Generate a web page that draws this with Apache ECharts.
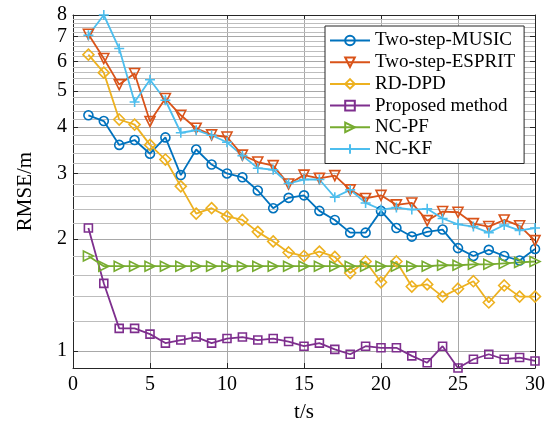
<!DOCTYPE html>
<html>
<head>
<meta charset="utf-8">
<script src="https://cdn.jsdelivr.net/npm/echarts@6/dist/echarts.min.js"></script>
<style>
html, body { margin: 0; padding: 0; background: #fff; }
#main { width: 555px; height: 425px; }
</style>
</head>
<body>
<div id="main"></div>
<script>
// time steps (s)
var tSteps = [1, 2, 3, 4, 5, 6, 7, 8, 9, 10, 11, 12, 13, 14, 15, 16, 17, 18, 19, 20, 21, 22, 23, 24, 25, 26, 27, 28, 29, 30];

// RMSE (m) per method
var musicRmse = [4.30, 4.15, 3.58, 3.69, 3.39, 3.75, 2.97, 3.48, 3.17, 3.00, 2.93, 2.70, 2.42, 2.58, 2.62, 2.38, 2.25, 2.08, 2.08, 2.38, 2.14, 2.03, 2.09, 2.12, 1.89, 1.80, 1.87, 1.80, 1.75, 1.88];
var espritRmse = [7.10, 6.11, 5.20, 5.57, 4.14, 4.77, 4.30, 3.97, 3.81, 3.76, 3.36, 3.22, 3.15, 2.81, 2.97, 2.91, 2.96, 2.71, 2.57, 2.62, 2.47, 2.50, 2.24, 2.37, 2.36, 2.20, 2.16, 2.25, 2.17, 1.98];
var rdDpdRmse = [6.26, 5.60, 4.19, 4.06, 3.58, 3.27, 2.77, 2.34, 2.42, 2.30, 2.25, 2.09, 1.97, 1.84, 1.80, 1.85, 1.79, 1.62, 1.74, 1.53, 1.74, 1.49, 1.51, 1.40, 1.47, 1.54, 1.35, 1.50, 1.40, 1.40];
var proposedRmse = [2.14, 1.52, 1.15, 1.15, 1.11, 1.05, 1.07, 1.09, 1.05, 1.08, 1.09, 1.07, 1.08, 1.06, 1.03, 1.05, 1.01, 0.98, 1.03, 1.02, 1.02, 0.97, 0.93, 1.03, 0.90, 0.95, 0.98, 0.95, 0.96, 0.94];
var ncPfRmse = [1.80, 1.69, 1.69, 1.69, 1.69, 1.69, 1.69, 1.69, 1.69, 1.69, 1.69, 1.69, 1.69, 1.69, 1.69, 1.69, 1.69, 1.69, 1.69, 1.69, 1.69, 1.69, 1.69, 1.70, 1.70, 1.71, 1.71, 1.72, 1.73, 1.74];
var ncKfRmse = [7.06, 8.00, 6.50, 4.67, 5.36, 4.72, 3.86, 3.92, 3.80, 3.64, 3.35, 3.10, 3.07, 2.82, 2.89, 2.89, 2.59, 2.71, 2.50, 2.40, 2.43, 2.40, 2.41, 2.27, 2.19, 2.16, 2.08, 2.18, 2.11, 2.14];

// axis ticks
var xTicks = [0, 5, 10, 15, 20, 25, 30];
var yTicks = [1, 2, 3, 4, 5, 6, 7, 8];
// minor grid every 0.2 between the major ticks (matlab log-axis minor grid)
var yMinorTicks = [];
for (var k = 12; k < 80; k += 2) {
    if (k % 10 !== 0) yMinorTicks.push(k / 10);
}

var FONT = "'Liberation Serif', 'Times New Roman', serif";
var AXIS_COLOR = '#262626';
var GRID_MAJOR = '#a8a8a8';
var GRID_MINOR = '#bdbdbd';

function makeSeries(name, values, color, symbol, size, rotate, yIdx) {
    return {
        name: name,
        type: 'line',
        xAxisIndex: 0,
        yAxisIndex: yIdx || 0,
        data: tSteps.map(function (t, i) { return [t, values[i]]; }),
        symbol: symbol,
        symbolSize: size,
        symbolRotate: rotate || 0,
        showAllSymbol: true,
        lineStyle: { color: color, width: 1.8 },
        itemStyle: { color: 'rgba(255,255,255,0)', borderColor: color, borderWidth: 1.6 },
        emphasis: { disabled: true },
        z: 3
    };
}

function yAxisBase(position) {
    return {
        type: 'log',
        logBase: 10,
        min: 0.9,
        max: 8,
        position: position,
        axisLine: { show: true, onZero: false, lineStyle: { color: AXIS_COLOR } },
        axisTick: { show: true, inside: true, length: 5, customValues: yTicks, lineStyle: { color: AXIS_COLOR } },
        axisLabel: { show: false },
        splitLine: { show: false }
    };
}

var yLeft = yAxisBase('left');
yLeft.axisLabel = { show: true, customValues: yTicks, fontFamily: FONT, fontSize: 20, color: '#000', margin: 6 };
yLeft.splitLine = { show: true, lineStyle: { color: GRID_MAJOR, width: 1, type: 'solid' } };
yLeft.name = 'RMSE/m';
yLeft.nameLocation = 'middle';
yLeft.nameGap = 37;
yLeft.nameTextStyle = { fontFamily: FONT, fontSize: 21, color: '#000' };

var yRight = yAxisBase('right');

var seriesList = [
    makeSeries('Two-step-MUSIC', musicRmse, '#0072BD', 'circle', 9),
    makeSeries('Two-step-ESPRIT', espritRmse, '#D95319', 'triangle', 10, 180),
    makeSeries('RD-DPD', rdDpdRmse, '#EDB120', 'diamond', 11),
    makeSeries('Proposed method', proposedRmse, '#7E2F8E', 'rect', 8),
    makeSeries('NC-PF', ncPfRmse, '#77AC30', 'triangle', 10, -90),
    makeSeries('NC-KF', ncKfRmse, '#4DBEEE', 'path://M0,5L10,5M5,0L5,10', 10, 0, 1)
];

// minor grid lines hung on the first series, under the data
seriesList[0].markLine = {
    silent: true,
    symbol: ['none', 'none'],
    z: 1,
    animation: false,
    precision: 2,
    label: { show: false },
    emphasis: { disabled: true },
    lineStyle: { color: GRID_MINOR, type: 'solid', width: 1 },
    data: yMinorTicks.map(function (v) { return { yAxis: v }; })
};

var option = {
    animation: false,
    backgroundColor: '#fff',
    grid: { left: 73, right: 20, top: 15, bottom: 57, outerBoundsMode: 'none' },
    legend: {
        orient: 'vertical',
        left: 325,
        top: 26,
        padding: [5, 9, 5, 4],
        itemWidth: 40,
        itemHeight: 12,
        itemGap: 2.7,
        backgroundColor: '#fff',
        borderColor: '#262626',
        borderWidth: 1,
        z: 10,
        textStyle: { fontFamily: FONT, fontSize: 19, lineHeight: 19, color: '#000' },
        data: ['Two-step-MUSIC', 'Two-step-ESPRIT', 'RD-DPD', 'Proposed method', 'NC-PF', 'NC-KF']
    },
    xAxis: [
        {
            type: 'value',
            position: 'bottom',
            min: xTicks[0],
            max: xTicks[xTicks.length - 1],
            interval: 5,
            axisLine: { onZero: false, lineStyle: { color: AXIS_COLOR } },
            axisTick: { show: true, inside: true, length: 5, lineStyle: { color: AXIS_COLOR } },
            axisLabel: { fontFamily: FONT, fontSize: 20, color: '#000', margin: 7 },
            splitLine: { show: true, lineStyle: { color: GRID_MAJOR, width: 1, type: 'solid' } },
            name: 't/s',
            nameLocation: 'middle',
            nameGap: 34,
            nameTextStyle: { fontFamily: FONT, fontSize: 21, color: '#000' }
        },
        {
            type: 'value',
            position: 'top',
            min: xTicks[0],
            max: xTicks[xTicks.length - 1],
            interval: 5,
            axisLine: { show: true, onZero: false, lineStyle: { color: AXIS_COLOR } },
            axisTick: { show: true, inside: true, length: 5, lineStyle: { color: AXIS_COLOR } },
            axisLabel: { show: false },
            splitLine: { show: false }
        }
    ],
    yAxis: [yLeft, yRight],
    series: seriesList
};

var chart = echarts.init(document.getElementById('main'));
chart.setOption(option);
</script>
</body>
</html>
